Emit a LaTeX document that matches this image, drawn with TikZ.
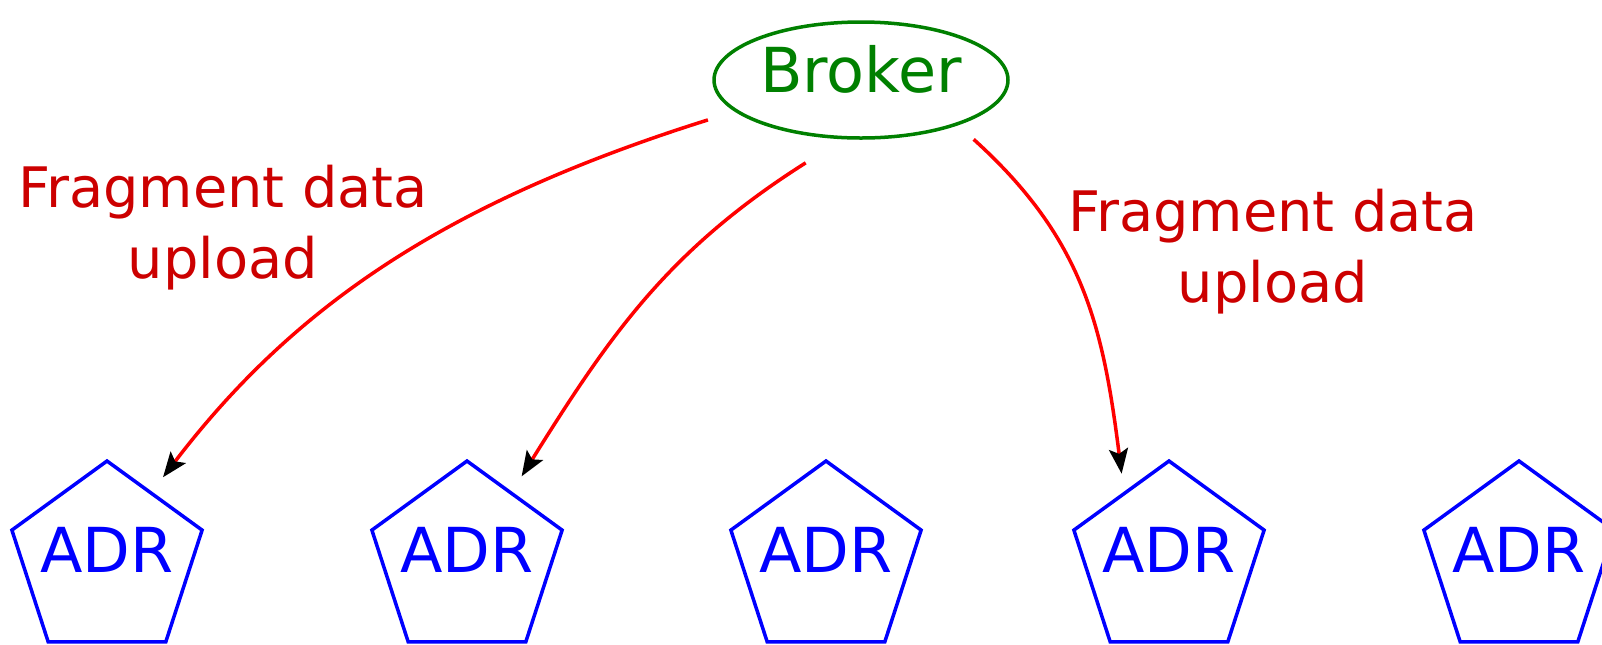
\documentclass[tikz,border=0pt]{standalone}
\usepackage{fontspec}
\setmainfont{DejaVu Sans}
\usetikzlibrary{arrows.meta,shapes.geometric}

\definecolor{brokergreen}{RGB}{0,128,0}
\definecolor{notered}{RGB}{204,0,0}

\newcommand{\adrtext}{\makebox[0pt]{ADR}}

\begin{document}
\begin{tikzpicture}[->,>={Stealth[color=black,length=12.5pt,width=9.5pt,inset=2.5pt]},
  x=0.5pt,y=-0.5pt,
  broker/.style={ellipse,draw=brokergreen,text=brokergreen,line width=1.75pt,
    minimum width=147pt,minimum height=58pt,inner sep=0pt,text depth=11pt,
    font=\fontsize{31}{36}\selectfont},
  adr/.style={regular polygon,regular polygon sides=5,draw=blue,text=blue,
    line width=1.75pt,minimum size=100pt,inner sep=0pt,text depth=11pt,
    font=\fontsize{31}{36}\selectfont},
  upload/.style={draw=red,line width=1.75pt,shorten <=14pt,shorten >=9pt},
  note/.style={text=notered,align=center,inner sep=0pt,
    font=\fontsize{27.9}{35.5}\selectfont}]

\useasboundingbox (0,0) rectangle (1602,644);

\node[broker] (broker) at (861,80) {Broker};

\node[adr] (adr1) at (107,561) {\adrtext};
\node[adr] (adr2) at (467,561) {\adrtext};
\node[adr] (adr3) at (826,561) {\adrtext};
\node[adr] (adr4) at (1169,561) {\adrtext};
\node[adr] (adr5) at (1519,561) {\adrtext};

\node[note] (note1) at (223,228) {Fragment data\\upload};
\node[note] (note2) at (1273,252) {Fragment data\\upload};

\draw[upload] (broker.194) .. controls (450,201) and (296,303) .. (adr1.57);
\draw[upload,shorten <=22pt] (broker.253) .. controls (668,250) and (610,335) .. (adr2.57);
\draw[upload,shorten <=10.5pt] (broker.335) .. controls (1084,239) and (1103,327) .. (adr4.123);
\end{tikzpicture}
\end{document}
